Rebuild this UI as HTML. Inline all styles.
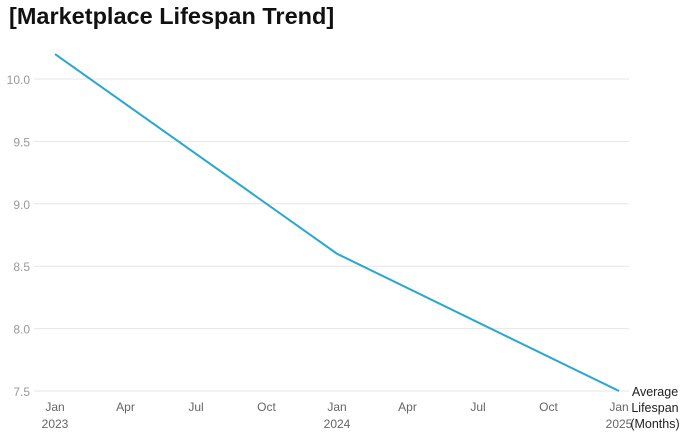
<!DOCTYPE html>
<html><head><meta charset="utf-8"><style>
body{margin:0;background:#fff;width:688px;height:447px;overflow:hidden;font-family:"Liberation Sans",sans-serif}
h1{position:absolute;left:9px;top:3px;margin:0;font-size:23.5px;font-weight:bold;color:#111}
</style></head><body>
<h1>[Marketplace Lifespan Trend]</h1>
<svg id="c" width="688" height="447" style="position:absolute;left:0;top:0"></svg>
<script>
const months=[0,12,24];
const values=[10.2,8.6,7.5];
const yTicks=[7.5,8.0,8.5,9.0,9.5,10.0];
const xTickMonths=[0,3,6,9,12,15,18,21,24];
const xTickLabels=["Jan","Apr","Jul","Oct","Jan","Apr","Jul","Oct","Jan"];
const xYearLabels=["2023","","","","2024","","","","2025"];
const svg=document.getElementById('c');const NS='http://www.w3.org/2000/svg';
const x=m=>55+m*(619-55)/24;
const y=v=>391-(v-7.5)*(391-79)/2.5;
function el(t,a,txt){const e=document.createElementNS(NS,t);for(const k in a)e.setAttribute(k,a[k]);if(txt!=null)e.textContent=txt;svg.appendChild(e);return e;}
yTicks.forEach(v=>{
const g=el('line',{x1:34,x2:629,y1:y(v),y2:y(v),stroke:'#e6e6e6','stroke-width':1});


const t=el('text',{x:30,y:y(v)+5,'text-anchor':'end','font-size':12,fill:'#999'},v.toFixed(1));


});
xTickMonths.forEach((m,i)=>{
const t=el('text',{x:x(m),y:411,'text-anchor':'middle','font-size':12,fill:'#666'},xTickLabels[i]);


if(xYearLabels[i]){const t2=el('text',{x:x(m),y:428,'text-anchor':'middle','font-size':12,fill:'#666'},xYearLabels[i]);

}
});
const p=el('polyline',{points:months.map((m,i)=>x(m)+','+y(values[i])).join(' '),fill:'none',stroke:'#2aa7d0','stroke-width':2});


["Average","Lifespan","(Months)"].forEach((s,i)=>{
const t=el('text',{x:655,y:396+i*16,'text-anchor':'middle','font-size':12.5,fill:'#222'},s);


});
</script>
</body></html>
